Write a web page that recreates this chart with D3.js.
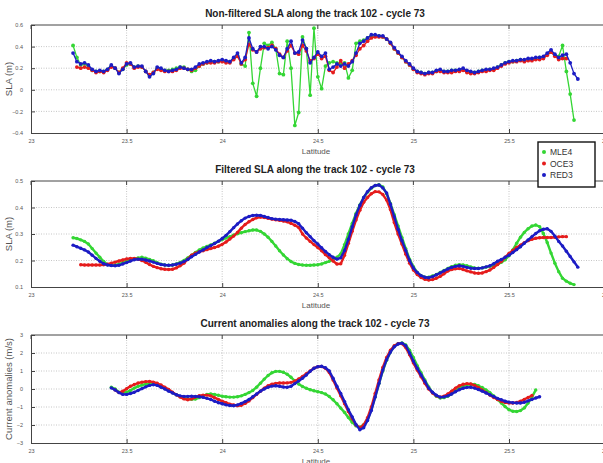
<!DOCTYPE html>
<html>
<head>
<meta charset="utf-8">
<script src="https://cdn.jsdelivr.net/npm/d3@7"></script>
<style>
  body { margin: 0; background: #fff; }
  svg { display: block; font-family: "Liberation Sans", Arial, sans-serif; }
</style>
</head>
<body>
<script>
// along-track samples, 0.02 deg apart
var latStep = 0.02;
var lat1Start = 23.22;   // panels 1 and 2
var lat3Start = 23.42;   // panel 3

var seriesNames = ["MLE4", "OCE3", "RED3"];
var xTicks = [23, 23.5, 24, 24.5, 25, 25.5, 26];

// non-filtered SLA (m)
var mle4Raw = [0.41,0.30,0.23,0.24,0.22,0.18,0.17,0.17,0.17,0.19,
  0.22,0.20,0.16,0.19,0.23,0.24,0.21,0.22,0.21,0.17,
  0.13,0.16,0.20,0.19,0.18,0.18,0.19,0.20,0.21,0.21,
  0.19,0.17,0.18,0.22,0.24,0.25,0.26,0.26,0.26,0.27,
  0.26,0.26,0.29,0.32,0.24,0.22,0.53,0.06,-0.06,0.20,
  0.43,0.41,0.44,0.38,0.15,0.14,0.45,0.20,-0.33,-0.21,
  0.49,0.38,-0.05,0.57,0.12,0.01,0.22,0.25,0.26,0.25,
  0.24,0.25,0.11,0.18,0.43,0.45,0.46,0.48,0.50,0.50,
  0.50,0.49,0.47,0.43,0.38,0.34,0.30,0.26,0.23,0.19,
  0.17,0.16,0.15,0.16,0.16,0.17,0.18,0.17,0.17,0.18,
  0.18,0.18,0.19,0.17,0.16,0.16,0.17,0.18,0.18,0.19,
  0.19,0.21,0.23,0.25,0.26,0.26,0.27,0.28,0.27,0.28,
  0.28,0.29,0.30,0.30,0.33,0.35,0.32,0.31,0.41,0.17,
  -0.04,-0.28,null];
var oce3Raw = [null,0.21,0.20,0.21,0.20,0.18,0.16,0.17,0.16,0.18,
  0.21,0.20,0.16,0.20,0.25,0.24,0.20,0.21,0.21,0.17,
  0.14,0.16,0.19,0.18,0.17,0.17,0.17,0.18,0.20,0.20,
  0.19,0.18,0.20,0.22,0.24,0.25,0.25,0.25,0.26,0.26,
  0.25,0.25,0.28,0.31,0.24,0.28,0.42,0.37,0.35,0.38,
  0.39,0.39,0.41,0.38,0.33,0.30,0.36,0.41,0.34,0.33,
  0.41,0.36,0.27,0.29,0.33,0.29,0.31,0.18,0.16,0.21,
  0.27,0.20,0.24,0.27,0.32,0.38,0.41,0.45,0.48,0.49,
  0.49,0.49,0.47,0.43,0.38,0.34,0.30,0.26,0.23,0.19,
  0.16,0.15,0.14,0.15,0.15,0.17,0.17,0.16,0.16,0.16,
  0.17,0.17,0.18,0.16,0.15,0.15,0.16,0.17,0.17,0.18,
  0.18,0.20,0.22,0.24,0.25,0.26,0.26,0.27,0.26,0.27,
  0.27,0.28,0.28,0.29,0.32,0.35,0.31,0.28,0.29,0.29,
  null,null,null];
var red3Raw = [0.34,0.26,0.24,0.25,0.23,0.19,0.17,0.18,0.17,0.19,
  0.23,0.20,0.15,0.19,0.24,0.25,0.21,0.22,0.22,0.17,
  0.12,0.15,0.21,0.20,0.18,0.17,0.18,0.19,0.21,0.20,
  0.19,0.19,0.21,0.24,0.25,0.26,0.27,0.26,0.27,0.28,
  0.27,0.26,0.30,0.34,0.25,0.30,0.48,0.38,0.35,0.40,
  0.40,0.38,0.40,0.37,0.32,0.30,0.38,0.45,0.34,0.35,
  0.46,0.38,0.25,0.30,0.35,0.31,0.34,0.19,0.21,0.24,
  0.22,0.24,0.22,0.26,0.34,0.43,0.45,0.48,0.51,0.51,
  0.50,0.50,0.47,0.44,0.39,0.35,0.31,0.27,0.24,0.20,
  0.17,0.16,0.15,0.16,0.16,0.18,0.19,0.17,0.17,0.18,
  0.18,0.19,0.20,0.18,0.17,0.16,0.17,0.18,0.19,0.19,
  0.20,0.21,0.23,0.25,0.26,0.27,0.27,0.28,0.28,0.29,
  0.29,0.30,0.30,0.31,0.34,0.37,0.33,0.30,0.32,0.33,
  0.25,0.15,0.10];

// filtered SLA (m)
var mle4Filt = [0.286,0.283,0.278,0.272,0.262,0.245,0.228,0.212,0.196,0.185,
  0.182,0.183,0.186,0.192,0.198,0.203,0.207,0.210,0.212,0.209,
  0.204,0.199,0.192,0.186,0.183,0.182,0.183,0.187,0.193,0.200,
  0.210,0.220,0.230,0.240,0.247,0.253,0.259,0.265,0.272,0.279,
  0.285,0.290,0.296,0.301,0.305,0.309,0.312,0.315,0.315,0.310,
  0.300,0.288,0.272,0.255,0.237,0.221,0.207,0.196,0.189,0.185,
  0.183,0.182,0.182,0.183,0.184,0.187,0.192,0.197,0.204,0.212,
  0.225,0.260,0.300,0.340,0.378,0.410,0.438,0.458,0.473,0.483,
  0.486,0.478,0.452,0.415,0.373,0.330,0.287,0.245,0.205,0.177,
  0.155,0.143,0.137,0.137,0.142,0.147,0.155,0.162,0.170,0.177,
  0.182,0.184,0.183,0.180,0.176,0.172,0.171,0.172,0.175,0.178,
  0.181,0.186,0.193,0.203,0.218,0.240,0.265,0.288,0.306,0.320,
  0.330,0.334,0.328,0.302,0.268,0.228,0.190,0.158,0.133,0.122,
  0.114,0.109,null];
var oce3Filt = [null,null,0.184,0.183,0.183,0.183,0.183,0.183,0.184,0.186,
  0.190,0.194,0.198,0.202,0.206,0.208,0.208,0.205,0.200,0.193,
  0.185,0.178,0.173,0.169,0.167,0.166,0.167,0.172,0.180,0.190,
  0.205,0.220,0.228,0.233,0.237,0.241,0.245,0.249,0.254,0.261,
  0.270,0.281,0.292,0.306,0.322,0.336,0.346,0.355,0.361,0.364,
  0.362,0.359,0.356,0.354,0.352,0.349,0.346,0.340,0.333,0.325,
  0.300,0.285,0.272,0.260,0.249,0.237,0.222,0.210,0.198,0.187,
  0.188,0.220,0.265,0.310,0.353,0.390,0.420,0.438,0.452,0.460,
  0.459,0.449,0.428,0.392,0.343,0.300,0.262,0.224,0.190,0.164,
  0.147,0.136,0.129,0.126,0.128,0.133,0.140,0.150,0.160,0.166,
  0.169,0.170,0.166,0.161,0.157,0.153,0.152,0.153,0.158,0.164,
  0.174,0.185,0.197,0.212,0.227,0.238,0.249,0.258,0.267,0.275,
  0.280,0.284,0.286,0.287,0.287,0.287,0.288,0.289,0.290,0.290,
  null,null,null];
var red3Filt = [0.258,0.252,0.246,0.240,0.232,0.220,0.208,0.197,0.188,0.183,
  0.181,0.180,0.182,0.187,0.192,0.198,0.203,0.205,0.205,0.202,
  0.198,0.194,0.189,0.185,0.183,0.182,0.183,0.186,0.190,0.196,
  0.204,0.214,0.223,0.232,0.240,0.249,0.256,0.264,0.273,0.283,
  0.295,0.309,0.324,0.338,0.350,0.360,0.366,0.370,0.371,0.370,
  0.366,0.362,0.358,0.356,0.355,0.354,0.353,0.352,0.347,0.339,
  0.322,0.305,0.290,0.275,0.262,0.248,0.234,0.222,0.212,0.205,
  0.210,0.238,0.280,0.327,0.372,0.408,0.438,0.460,0.475,0.483,
  0.485,0.474,0.455,0.412,0.365,0.318,0.275,0.238,0.200,0.172,
  0.155,0.143,0.137,0.135,0.139,0.146,0.153,0.161,0.168,0.174,
  0.178,0.180,0.178,0.174,0.171,0.170,0.170,0.172,0.176,0.180,
  0.188,0.197,0.204,0.212,0.220,0.230,0.241,0.252,0.265,0.278,
  0.290,0.302,0.312,0.318,0.320,0.310,0.292,0.272,0.255,0.235,
  0.215,0.195,0.175];

// current anomalies (m/s)
var mle4Cur = [0.10,0.00,-0.18,-0.22,-0.18,-0.08,0.05,0.15,0.22,0.27,
  0.30,0.30,0.25,0.15,0.04,-0.08,-0.20,-0.32,-0.42,-0.50,
  -0.55,-0.57,-0.56,-0.48,-0.38,-0.30,-0.28,-0.30,-0.35,-0.40,
  -0.43,-0.45,-0.45,-0.43,-0.38,-0.30,-0.20,-0.08,0.10,0.32,
  0.55,0.75,0.90,0.98,0.98,0.93,0.82,0.65,0.45,0.28,
  0.14,0.04,-0.04,-0.10,-0.15,-0.20,-0.28,-0.42,-0.60,-0.82,
  -1.06,-1.30,-1.58,-1.85,-2.05,-2.12,-1.98,-1.72,-1.15,-0.45,
  0.30,1.00,1.60,2.05,2.38,2.52,2.56,2.45,2.15,1.75,
  1.30,0.90,0.50,0.12,-0.20,-0.40,-0.50,-0.48,-0.40,-0.26,
  -0.10,0.05,0.16,0.23,0.26,0.25,0.18,0.08,-0.05,-0.20,
  -0.38,-0.58,-0.78,-0.98,-1.15,-1.24,-1.25,-1.20,-1.05,-0.78,
  -0.45,-0.05,null];
var oce3Cur = [null,-0.05,-0.20,-0.12,0.02,0.15,0.25,0.33,0.38,0.41,
  0.42,0.38,0.32,0.22,0.10,-0.02,-0.18,-0.32,-0.45,-0.55,
  -0.60,-0.55,-0.45,-0.37,-0.34,-0.34,-0.38,-0.48,-0.58,-0.68,
  -0.76,-0.84,-0.88,-0.93,-0.90,-0.80,-0.66,-0.48,-0.30,-0.12,
  0.05,0.18,0.27,0.31,0.33,0.33,0.34,0.37,0.44,0.56,
  0.70,0.85,1.00,1.15,1.24,1.25,1.15,0.92,0.50,0.05,
  -0.38,-0.82,-1.25,-1.65,-2.00,-2.15,-2.00,-1.60,-1.00,-0.25,
  0.50,1.20,1.75,2.15,2.40,2.52,2.52,2.30,1.90,1.45,
  1.05,0.68,0.32,0.00,-0.22,-0.38,-0.45,-0.40,-0.28,-0.12,
  0.05,0.18,0.26,0.30,0.28,0.20,0.08,-0.06,-0.20,-0.34,
  -0.47,-0.58,-0.68,-0.75,-0.78,-0.78,-0.75,-0.68,-0.58,-0.47,
  -0.36,null,null];
var red3Cur = [0.06,-0.05,-0.20,-0.30,-0.30,-0.25,-0.18,-0.08,0.02,0.12,
  0.20,0.24,0.20,0.10,0.00,-0.12,-0.22,-0.32,-0.38,-0.41,
  -0.41,-0.40,-0.41,-0.43,-0.46,-0.52,-0.58,-0.68,-0.76,-0.82,
  -0.88,-0.92,-0.93,-0.88,-0.80,-0.70,-0.58,-0.43,-0.28,-0.12,
  0.00,0.10,0.16,0.18,0.15,0.11,0.10,0.15,0.30,0.45,
  0.60,0.78,0.98,1.15,1.24,1.26,1.18,1.00,0.60,0.15,
  -0.25,-0.70,-1.15,-1.55,-1.98,-2.26,-2.15,-1.75,-1.20,-0.45,
  0.30,1.05,1.63,2.05,2.35,2.50,2.55,2.40,2.00,1.55,
  1.15,0.78,0.42,0.05,-0.18,-0.35,-0.45,-0.44,-0.38,-0.28,
  -0.15,-0.04,0.04,0.09,0.10,0.05,-0.03,-0.12,-0.22,-0.32,
  -0.42,-0.52,-0.60,-0.68,-0.73,-0.76,-0.78,-0.78,-0.74,-0.66,
  -0.58,-0.50,-0.43];

var colors = ["#34d634", "#e51c1c", "#1c1cc4"];

var W = 603, H = 463;
var svg = d3.select("body").append("svg").attr("width", W).attr("height", H);
svg.append("rect").attr("width", W).attr("height", H).attr("fill", "#fff");

// the 26 end of the axis sits just past the right edge, as in the original figure
var x = d3.scaleLinear().domain([23, 26]).range([31, 604.6]);

function drawPanel(p) {
  var y = d3.scaleLinear().domain(p.yDomain).range([p.bottom, p.top]);
  var g = svg.append("g");

  // grid
  g.selectAll(".gx").data(xTicks.slice(1, -1)).enter().append("line")
    .attr("x1", d => x(d)).attr("x2", d => x(d))
    .attr("y1", p.top).attr("y2", p.bottom)
    .attr("stroke", "#b8b8b8").attr("stroke-width", 0.8).attr("stroke-dasharray", "1,1.5");
  g.selectAll(".gy").data(p.yTicks.slice(1, -1)).enter().append("line")
    .attr("x1", x(23)).attr("x2", x(26))
    .attr("y1", d => y(d)).attr("y2", d => y(d))
    .attr("stroke", "#b8b8b8").attr("stroke-width", 0.8).attr("stroke-dasharray", "1,1.5");

  // axes, matlab style ticks inside
  var ax = g.append("g").attr("transform", "translate(0," + p.bottom + ")")
    .call(d3.axisBottom(x).tickValues(xTicks).tickSize(-4).tickPadding(6).tickFormat(d3.format("")));
  var ay = g.append("g").attr("transform", "translate(" + x(23) + ",0)")
    .call(d3.axisLeft(y).tickValues(p.yTicks).tickSize(-4).tickPadding(8).tickFormat(d3.format("")));
  [ax, ay].forEach(function(a) {
    a.select(".domain").attr("stroke", "#444");
    a.selectAll(".tick line").attr("stroke", "#444");
    a.selectAll("text").attr("fill", "#555").attr("font-size", 5.5)
      .attr("font-family", "\"Liberation Sans\", Arial, sans-serif");
  });
  g.append("line").attr("x1", x(23)).attr("x2", x(26)).attr("y1", p.top).attr("y2", p.top)
    .attr("stroke", "#444");
  g.selectAll(".tt").data(xTicks).enter().append("line")
    .attr("x1", d => x(d)).attr("x2", d => x(d)).attr("y1", p.top).attr("y2", p.top + 4)
    .attr("stroke", "#444");

  // series
  p.series.forEach(function(vals, k) {
    var pts = vals.map(function(v, i) { return {lat: p.latStart + i * latStep, v: v}; });
    var line = d3.line().defined(d => d.v != null).x(d => x(d.lat)).y(d => y(d.v));
    g.append("path").datum(pts).attr("d", line).attr("fill", "none")
      .attr("stroke", colors[k]).attr("stroke-width", p.lw).attr("stroke-linejoin", "round");
    g.selectAll(".m" + k).data(pts.filter(d => d.v != null)).enter().append("circle")
      .attr("cx", d => x(d.lat)).attr("cy", d => y(d.v)).attr("r", p.r)
      .attr("fill", colors[k]);
  });

  // labels
  svg.append("text").attr("x", 315).attr("y", p.top - 8).attr("text-anchor", "middle")
    .attr("font-size", 10).attr("font-weight", "bold").attr("fill", "#222").text(p.title);
  svg.append("text").attr("x", 316).attr("y", p.bottom + 21).attr("text-anchor", "middle")
    .attr("font-size", 8).attr("fill", "#555").text("Latitude");
  svg.append("text").attr("transform", "translate(12," + ((p.top + p.bottom) / 2) + ") rotate(-90)")
    .attr("text-anchor", "middle").attr("font-size", 9.5).attr("fill", "#555").text(p.ylabel);
}

drawPanel({top: 25, bottom: 133, yDomain: [-0.4, 0.6], yTicks: [-0.4, -0.2, 0, 0.2, 0.4, 0.6],
  title: "Non-filtered SLA along the track 102 - cycle 73", ylabel: "SLA (m)",
  latStart: lat1Start, series: [mle4Raw, oce3Raw, red3Raw], lw: 1.3, r: 1.9});
drawPanel({top: 181, bottom: 287, yDomain: [0.1, 0.5], yTicks: [0.1, 0.2, 0.3, 0.4, 0.5],
  title: "Filtered SLA along the track 102 - cycle 73", ylabel: "SLA (m)",
  latStart: lat1Start, series: [mle4Filt, oce3Filt, red3Filt], lw: 2.4, r: 1.7});
drawPanel({top: 335, bottom: 443, yDomain: [-3, 3], yTicks: [-3, -2, -1, 0, 1, 2, 3],
  title: "Current anomalies along the track 102 - cycle 73", ylabel: "Current anomalies (m/s)",
  latStart: lat3Start, series: [mle4Cur, oce3Cur, red3Cur], lw: 2.4, r: 1.7});

// legend
var leg = svg.append("g");
leg.append("rect").attr("x", 538).attr("y", 142).attr("width", 57).attr("height", 45)
  .attr("fill", "#fff").attr("stroke", "#111").attr("stroke-width", 1.4);
seriesNames.forEach(function(n, k) {
  var yy = 152 + k * 11.5;
  leg.append("circle").attr("cx", 544).attr("cy", yy).attr("r", 2).attr("fill", colors[k]);
  leg.append("text").attr("x", 550).attr("y", yy + 3).attr("font-size", 8.5)
    .attr("fill", "#333").text(n);
});
</script>
</body>
</html>
